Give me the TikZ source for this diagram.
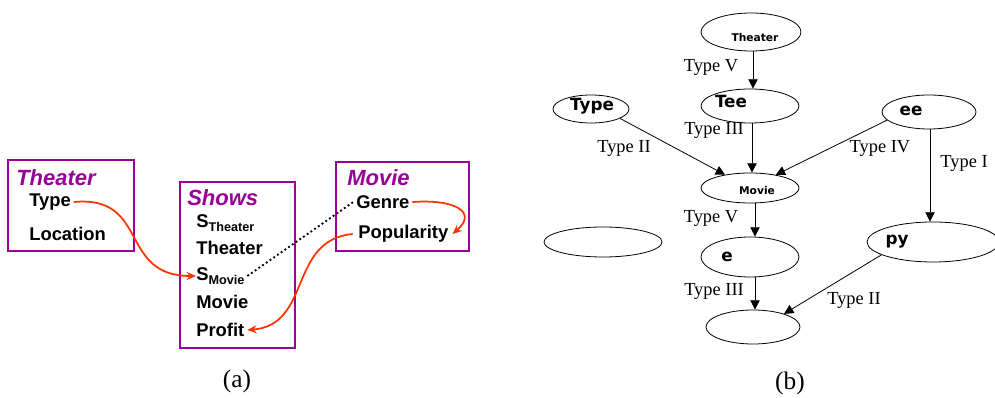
\documentclass[tikz,border=0pt]{standalone}
\usepackage{fontspec}
\setmainfont{Liberation Serif}
\newfontfamily\arialfont{Liberation Sans}
\newfontfamily\verdfont{DejaVu Sans}
\usetikzlibrary{arrows.meta,shapes.geometric}
\definecolor{relpurple}{HTML}{990099}
\definecolor{linkred}{HTML}{FF3300}
\tikzset {>=Stealth}
\tikzset{
  relbox/.style={draw=relpurple,line width=1.4pt},
  reltitle/.style={anchor=west,text=relpurple,inner sep=0pt,font=\arialfont\bfseries\itshape\fontsize{16.5}{18}\selectfont},
  attr/.style={anchor=west,inner sep=0pt,font=\arialfont\bfseries\fontsize{13.8}{16}\selectfont},
  redlink/.style={draw=linkred,line width=1.3pt,->,>={Stealth[length=7pt,width=6pt]}},
  bnode/.style={draw,ellipse,inner sep=0pt,line width=0.6pt},
  edgelbl/.style={inner sep=0pt,font=\fontsize{13.8}{16}\selectfont},
  depend/.style={line width=0.6pt,->,>={Triangle[length=7pt,width=7pt]}},
  caplbl/.style={inner sep=0pt,font=\fontsize{19}{21}\selectfont}
}
\newcommand{\subtxt}[1]{\raisebox{-0.45ex}{\fontsize{9.5}{10}\selectfont #1}}
\newcommand{\elbl}[1]{\verdfont\bfseries\fontsize{12.6}{14}\selectfont #1}
\newcommand{\esml}[1]{\verdfont\bfseries\fontsize{8}{9}\selectfont #1}

\begin{document}
\begin{tikzpicture}[x=0.75pt,y=-0.75pt]
\useasboundingbox (0,0) rectangle (995,398);
% (a) the three relations
\draw[relbox] (8,160) rectangle (134,251);
\draw[relbox] (180,182) rectangle (295,348);
\draw[relbox] (336,162) rectangle (469,251);
\node[reltitle] (thTitle) at (16,178) {Theater};
\node[reltitle] (shTitle) at (187,198) {Shows};
\node[reltitle] (mvTitle) at (347,178) {Movie};
\node[attr] (thType) at (29,202) {Type};
\node[attr] (thLoc) at (29,234) {Location};
\node[attr] (sTh) at (196,223) {S\subtxt{Theater}};
\node[attr] (shTh) at (196,248) {Theater};
\node[attr] (sMv) at (196,276) {S\subtxt{Movie}};
\node[attr] (shMv) at (196,302) {Movie};
\node[attr] (shProfit) at (196,330) {Profit};
\node[attr] (mvGenre) at (356,202) {Genre};
\node[attr] (mvPop) at (358,234) {Popularity};
\draw[redlink] (thType.east) ++(2pt,0) .. controls (150,195) and (118,276) .. (sMv.west);
\draw[redlink] (mvGenre.east) ++(2pt,0) .. controls (455,199) and (478,212) .. ([xshift=3pt]mvPop.east);
\draw[redlink] (mvPop.west) ++(-4pt,0) .. controls (288,240) and (312,325) .. ([xshift=2pt]shProfit.east);
\draw[line width=1.4pt,dotted] ([xshift=2pt]sMv.east) -- ([xshift=-2pt]mvGenre.west);
\node[caplbl] (capA) at (237,381) {(a)};
% (b) the dependency graph
\node[bnode,minimum width=75pt,minimum height=28.5pt] (gTheater) at (751,32) {};
\node (gTheaterL) at (755,38) {\esml{Theater}};
\node[bnode,minimum width=73.5pt,minimum height=25.5pt] (gTee) at (750,106) {};
\node (gTeeL) at (731,101) {\elbl{Tee}};
\node[bnode,minimum width=57pt,minimum height=21pt] (gType) at (591,109) {};
\node (gTypeL) at (592,106) {\elbl{Type}};
\node[bnode,minimum width=70.5pt,minimum height=25.5pt] (gEe) at (929,112) {};
\node (gEeL) at (911,111) {\elbl{ee}};
\node[bnode,minimum width=73.5pt,minimum height=22.5pt] (gMovie) at (750,188) {};
\node (gMovieL) at (757,191) {\esml{Movie}};
\node[bnode,minimum width=88.5pt,minimum height=22.5pt] (gLone) at (603,242) {};
\node[bnode,minimum width=73.5pt,minimum height=30pt] (gE) at (750,257) {};
\node (gEL) at (727,257) {\elbl{e}};
\node[bnode,minimum width=99pt,minimum height=30pt] (gPy) at (933,242) {};
\node (gPyL) at (897,242) {\elbl{py}};
\node[bnode,minimum width=70.5pt,minimum height=25.5pt] (gBot) at (753,327) {};
\draw[depend] (gTheater.south -| 753,0) -- (gTee.north -| 753,0);
\draw[depend] (gTee.south -| 752,0) -- (gMovie.north -| 752,0);
\draw[depend] (gType.342) -- (gMovie.152);
\draw[depend] (gEe.191) -- (gMovie.27);
\draw[depend] (gEe.south -| 930,0) -- (gPy.north -| 930,0);
\draw[depend] (gMovie.south -| 755,0) -- (gE.north -| 755,0);
\draw[depend] (gE.south -| 755,0) -- (gBot.north -| 755,0);
\draw[depend] (gPy.194) -- (gBot.23);
\node[edgelbl] (lblA) at (711,67) {Type V};
\node[edgelbl] (lblB) at (714,130) {Type III};
\node[edgelbl] (lblC) at (624,148) {Type II};
\node[edgelbl] (lblD) at (880,148) {Type IV};
\node[edgelbl] (lblE) at (964,163) {Type I};
\node[edgelbl] (lblF) at (711,218) {Type V};
\node[edgelbl] (lblG) at (714,291) {Type III};
\node[edgelbl] (lblH) at (854,300) {Type II};
\node[caplbl] (capB) at (790,383) {(b)};
\end{tikzpicture}
\end{document}
